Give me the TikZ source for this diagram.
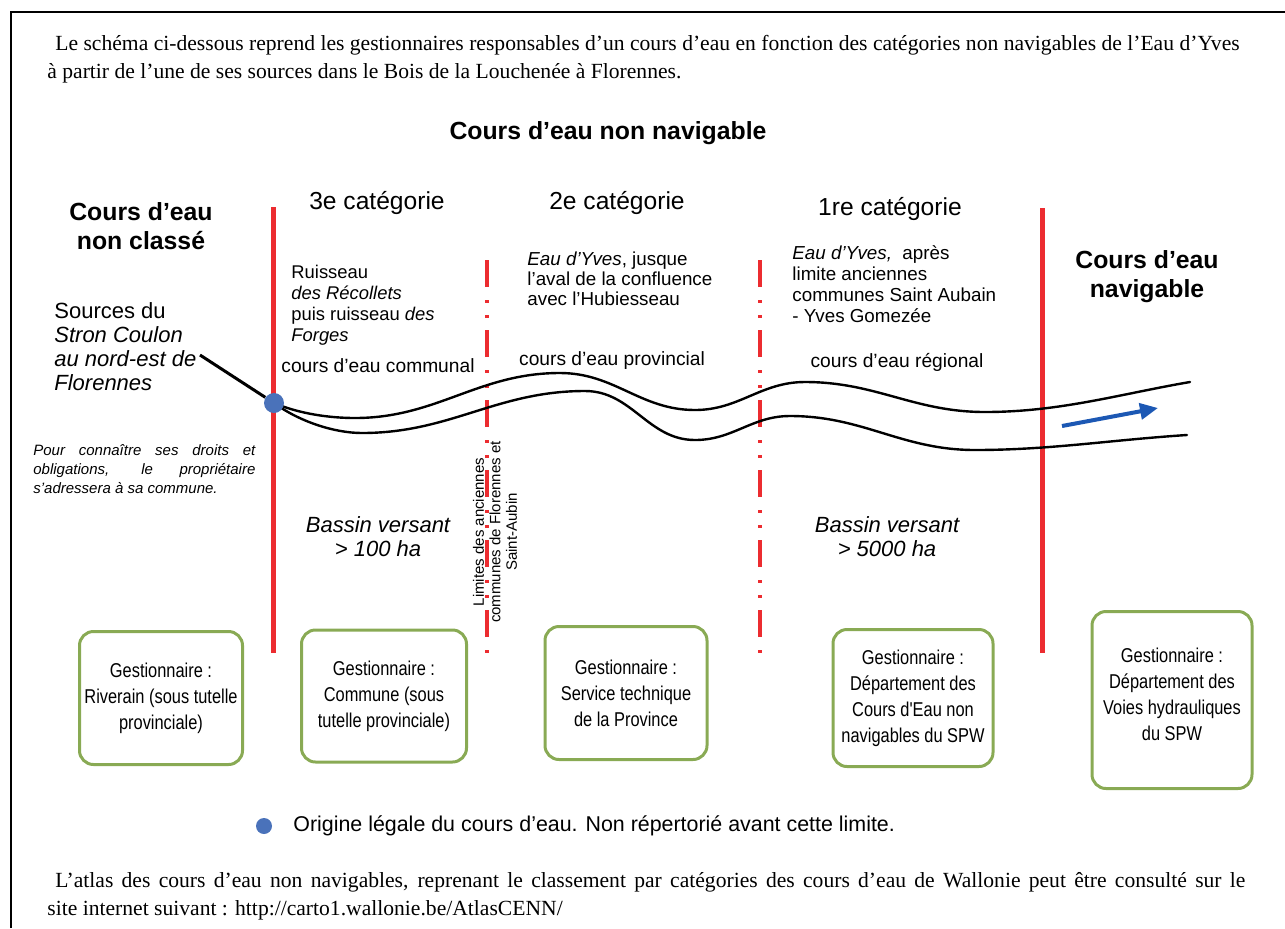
\documentclass[tikz,border=0pt]{standalone}
\usepackage{fontspec}
\setmainfont{Liberation Serif}
\setsansfont{Liberation Sans}
\newfontfamily\narrowsf{Liberation Sans}[FakeStretch=0.82]
\usetikzlibrary{arrows.meta}
\definecolor{limred}{RGB}{236,44,48}
\definecolor{boxgreen}{RGB}{137,170,84}
\definecolor{originblue}{RGB}{74,114,186}
\definecolor{flowblue}{RGB}{28,88,180}

\begin{document}
\begin{tikzpicture}[x=0.5pt, y=-0.5pt,
    every node/.style={inner sep=0pt, font=\sffamily},
    serifline/.style={anchor=base west, font=\rmfamily\fontsize{10.8}{13}\selectfont},
    seriftext/.style={anchor=north west, text width=599pt, align=justify,
        font=\rmfamily\fontsize{10.8}{14}\selectfont},
    zonetitle/.style={align=center, font=\sffamily\bfseries\fontsize{12.4}{14.5}\selectfont},
    cattitle/.style={font=\sffamily\fontsize{12.3}{14}\selectfont},
    rivername/.style={anchor=west, align=left, font=\sffamily\fontsize{9.4}{10}\selectfont},
    status/.style={font=\sffamily\fontsize{9.6}{11}\selectfont},
    bassin/.style={align=center, font=\sffamily\itshape\fontsize{11}{12}\selectfont},
    gestbox/.style={draw=boxgreen, line width=1.5pt, rounded corners=7pt, align=center,
        font=\narrowsf\fontsize{10}{13}\selectfont},
    origindot/.style={circle, fill=originblue, minimum size=10pt},
    catlimit/.style={limred, line width=2.5pt},
    sublimit/.style={limred, line width=2pt,
        dash pattern=on 13.5pt off 6.5pt on 1.5pt off 6pt on 1.5pt off 6pt},
    riverbank/.style={line width=1.2pt, line cap=round},
]
    \useasboundingbox (0,0) rectangle (1285,928);
    \draw[line width=1.1pt] (11,928) -- (11,12) -- (1285,12);

    % texte d'introduction
    \node[serifline] (intro1) at (55,50) {Le schéma ci-dessous reprend les gestionnaires responsables d'un cours d'eau en fonction des catégories non navigables de l'Eau d'Yves};
    \node[serifline] (intro2) at (47,78) {à partir de l'une de ses sources dans le Bois de la Louchenée à Florennes.};

    % titres
    \node[zonetitle] (nonnav) at (608,133) {Cours d'eau non navigable};
    \node[zonetitle] (nonclasse) at (141,226) {Cours d'eau\\non classé};
    \node[zonetitle] (navigable) at (1147,277) {Cours d'eau\\navigable};
    \node[cattitle] (cat3) at (377,203) {3e catégorie};
    \node[cattitle] (cat2) at (617,203) {2e catégorie};
    \node[cattitle] (cat1) at (890,209) {1re catégorie};

    % limites
    \draw[catlimit] (273,207) -- (273,653);
    \draw[catlimit] (1042,208) -- (1042,653);
    \draw[sublimit] (487,260) -- (487,653);
    \draw[sublimit] (760,260) -- (760,655);

    % textes des zones
    \node[anchor=west, align=left, font=\sffamily\fontsize{11}{12}\selectfont] (sources) at (54,347)
        {Sources du\\\textit{Stron Coulon}\\\textit{au nord-est de}\\\textit{Florennes}};
    \node[anchor=west, text width=111pt, align=justify, font=\sffamily\itshape\fontsize{7.5}{9.5}\selectfont] (droits) at (33,469)
        {Pour connaître ses droits et obligations, le propriétaire s'adressera à sa commune.};
    \node[rivername, font=\sffamily\fontsize{9.2}{10.5}\selectfont] (recollets) at (291,305)
        {Ruisseau\\\textit{des Récollets}\\puis ruisseau \textit{des}\\\textit{Forges}};
    \node[rivername] (eauyves2) at (527,279)
        {\textit{Eau d'Yves}, jusque\\l'aval de la confluence\\avec l'Hubiesseau};
    \node[rivername, font=\sffamily\fontsize{9.4}{10.4}\selectfont] (eauyves1) at (792,284)
        {\textit{Eau d'Yves,}\ \ après\\limite anciennes\\communes Saint Aubain\\- Yves Gomezée};
    \node[status] (communal) at (378,366) {cours d'eau communal};
    \node[status] (provincial) at (612,361) {cours d'eau provincial};
    \node[status] (regional) at (897,362) {cours d'eau régional};
    \node[bassin] (bassin3) at (378,537) {Bassin versant\\> 100 ha};
    \node[bassin] (bassin1) at (887,537) {Bassin versant\\> 5000 ha};
    \node[rotate=90, align=center, font=\sffamily\fontsize{7.5}{8.2}\selectfont] (anciennes) at (495,532)
        {Limites des anciennes\\communes de Florennes et\\Saint-Aubin};

    % cours d'eau
    \coordinate (src) at (274,403);
    \draw[riverbank] (src) .. controls (300,414) and (330,418) .. (355,418)
        to[out=0, in=180] (560,373) to[out=0, in=180] (695,410)
        to[out=0, in=180] (805,382) to[out=0, in=180] (985,412)
        .. controls (1060,412) and (1120,394) .. (1190,382);
    \draw[riverbank] (src) .. controls (300,422) and (335,433) .. (362,433)
        to[out=0, in=180] (585,391) to[out=0, in=180] (695,440)
        to[out=0, in=180] (790,416) to[out=0, in=180] (975,450)
        .. controls (1050,450) and (1110,440) .. (1187,435);
    \node[origindot] (origin) at (src) {};
    \coordinate (sourcetip) at (200,355);
    \draw[line width=1.5pt] (sourcetip) -- (origin);
    \coordinate (flowstart) at (1062,426);
    \coordinate (flowend) at (1158,408);
    \draw[flowblue, line width=2pt, -{Triangle[length=9pt, width=8pt]}] (flowstart) -- (flowend);

    % gestionnaires
    \node[gestbox, minimum width=81.5pt, minimum height=66.5pt] (riverain) at (161,698)
        {Gestionnaire :\\Riverain (sous tutelle\\provinciale)};
    \node[gestbox, minimum width=82.5pt, minimum height=66pt] (commune) at (384,696)
        {Gestionnaire :\\Commune (sous\\tutelle provinciale)};
    \node[gestbox, minimum width=81pt, minimum height=66.5pt] (province) at (626,693)
        {Gestionnaire :\\Service technique\\de la Province};
    \node[gestbox, minimum width=80pt, minimum height=68.5pt] (dcenn) at (913,698)
        {Gestionnaire :\\Département des\\Cours d'Eau non\\navigables du SPW};
    \node[gestbox, minimum width=80pt, minimum height=88.5pt] (dvh) at (1172,700)
        {Gestionnaire :\\Département des\\Voies hydrauliques\\du SPW\\[-7pt]};

    % légende
    \node[origindot, minimum size=8pt] (legdot) at (264,826) {};
    \node[anchor=west, font=\sffamily\fontsize{10.7}{12}\selectfont] (legtext) at (293,826)
        {Origine légale du cours d'eau. Non répertorié avant cette limite.};

    % texte final
    \node[seriftext] (atlas) at (47,872) {\hspace*{4pt}L'atlas des cours d'eau non navigables, reprenant le classement par catégories des cours d'eau de Wallonie peut être consulté sur le\linebreak site internet suivant : http://carto1.wallonie.be/AtlasCENN/};
\end{tikzpicture}
\end{document}
